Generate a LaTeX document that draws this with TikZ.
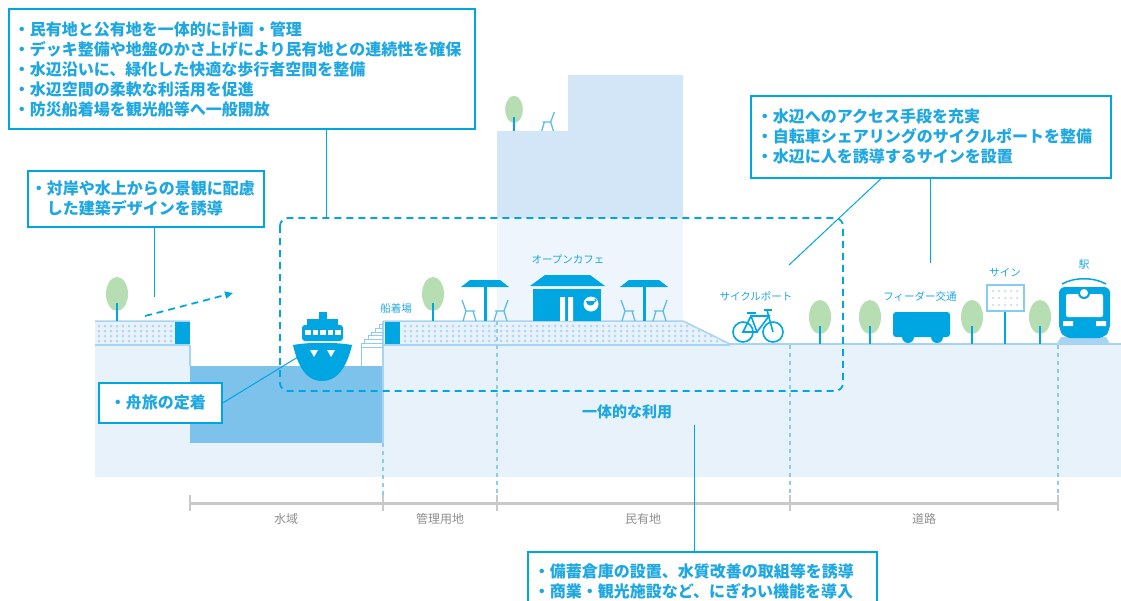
\documentclass[tikz,border=0pt]{standalone}
\usepackage{fontspec}
\setmainfont{Noto Sans CJK JP}
\usetikzlibrary{arrows.meta}
\definecolor{cyanmain}{HTML}{00A6E2}
\definecolor{cyantext}{HTML}{1EA7E1}
\definecolor{cyanlight}{HTML}{5CBDE8}
\definecolor{groundfill}{HTML}{E8F2FB}
\definecolor{waterfill}{HTML}{7DC2EB}
\definecolor{buildfill}{HTML}{D2E6F8}
\definecolor{buildlow}{HTML}{EFF5FC}
\definecolor{edgeblue}{HTML}{A8D4F3}
\definecolor{dotblue}{HTML}{B3D6F2}
\definecolor{divblue}{HTML}{8DCBF0}
\definecolor{treegreen}{HTML}{B7DDB2}
\definecolor{scalegray}{HTML}{C9C9C9}
\definecolor{labelgray}{HTML}{8E8E8E}

\begin{document}
\begin{tikzpicture}[
        x=1pt, y=-1pt, % ось y вниз
        note/.style={draw=cyanmain, line width=1.8pt, fill=white, anchor=north west,
            align=left, text=cyantext, inner ysep=0pt,
            font=\fontsize{16}{20}\selectfont\bfseries}, % рамки с пояснениями
        tag/.style={text=cyantext, font=\fontsize{10.5}{12}\selectfont}, % подписи объектов
        zone/.style={text=labelgray, font=\fontsize{12}{14}\selectfont}, % подписи участков
        link/.style={draw=cyanmain, line width=1pt},
        divider/.style={draw=divblue, line width=1.2pt, dash pattern=on 4pt off 4pt},
        tree/.pic={
            \fill[treegreen] (0,-27) ellipse (11 and 17);
            \draw[cyanmain, line width=2.2pt] (0,-18) -- (0,0);
        },
        chairL/.pic={
            \draw[cyanlight, line width=1.3pt] (-7,-21) -- (-3,-10) -- (6,-10)
                (-3,-10) -- (-6,0) (4,-10) -- (7,0);
        },
        chairR/.pic={
            \draw[cyanlight, line width=1.3pt] (7,-21) -- (3,-10) -- (-6,-10)
                (3,-10) -- (6,0) (-4,-10) -- (-7,0);
        },
        parasol/.pic={
            \fill[cyanmain] (-24,-34) -- (24,-34) -- (15,-41) -- (-15,-41) -- cycle;
            \draw[cyanmain, line width=3pt] (0,-34) -- (0,0);
        },
    ]

    \useasboundingbox (0,0) rectangle (1121,600);

    % здание
    \fill[buildfill] (497,218) -- (497,131) -- (568,131) -- (568,75) -- (683,75) -- (683,218) -- cycle;
    \fill[buildlow] (497,218) rectangle (683,321);
    \pic[scale=0.8] at (514,131) {tree};
    \pic[scale=0.9] at (548,131) {chairR};

    % грунт и вода
    \fill[groundfill] (95,321) rectangle (1121,477);
    \fill[white] (190,321) rectangle (383,366);
    \fill[waterfill] (190,366) rectangle (383,443);
    \fill[white] (683,320) -- (730,344) -- (1121,344) -- (1121,320) -- cycle;

    % набережные с точками
    \fill[cyanmain] (175,321) rectangle (190,345);
    \fill[cyanmain] (385,321) rectangle (400,345);
    \foreach \y in {326,331,336,341}
        \foreach \x in {99,105,...,171}
            \fill[dotblue] (\x,\y) circle (1.5);
    \begin{scope}
        \clip (400,321) -- (683,321) -- (730,344) -- (400,344) -- cycle;
        \foreach \y in {326,331,336,341}
            \foreach \x in {405,411,...,730}
                \fill[dotblue] (\x,\y) circle (1.5);
    \end{scope}
    \draw[edgeblue, line width=1.5pt] (95,321) -- (190,321) (383,321) -- (683,321) -- (730,344);
    \draw[edgeblue, line width=2pt] (95,345) -- (190,345) (383,345) -- (730,345) (730,344) -- (1121,344);
    \draw[edgeblue, line width=1.2pt] (190,345) -- (190,366) (383,321) -- (383,443);

    % лестница
    \draw[divblue, line width=0.9pt] (361,366) -- (361,347) -- (383,347);
    \foreach \i in {1,...,6}
        \draw[divblue, line width=0.9pt] (361+3.6*\i-3.6,347-3.7*\i+3.7) -- (361+3.6*\i-3.6,347-3.7*\i) -- (383,347-3.7*\i);

    % разделители участков
    \draw[divider] (383,443) -- (383,500);
    \draw[divider] (497,321) -- (497,500);
    \draw[divider] (790,345) -- (790,500);
    \draw[divider] (1058,345) -- (1058,500);

    % деревья
    \foreach \x in {117,433} \pic at (\x,321) {tree};
    \foreach \x in {820,870,972,1040} \pic at (\x,344) {tree};

    % кафе и зонтики
    \foreach \x in {485,644} {
        \pic at (\x,321) {parasol};
        \pic at (\x-16,321) {chairL};
        \pic at (\x+16,321) {chairR};
    }
    \fill[cyanmain] (530,286) -- (605,286) -- (590,275) -- (545,275) -- cycle;
    \fill[cyanmain] (533,289) rectangle (601,321);
    \fill[white] (560,297) rectangle (565,321) (568,297) rectangle (573,321);
    \fill[white] (591,304) circle (7.5);
    \fill[cyanmain] (586,301) -- (595,301) .. controls (595,307) and (586,307) .. (586,301);
    \draw[cyanmain, line width=0.8pt] (594.5,302) arc (90:-90:1.6);
    \node[tag] (cafe) at (568,259) {オープンカフェ};

    % катер
    \fill[cyanmain] (293,345) .. controls (310,342) and (335,342) .. (352,345)
        .. controls (348,362) and (340,381) .. (322,381)
        .. controls (304,381) and (297,362) .. (293,345);
    \fill[white] (310,350) -- (318,350) -- (314,357) -- cycle (327,350) -- (335,350) -- (331,357) -- cycle;
    \fill[cyanmain, rounded corners=3pt] (302,341) -- (302,325) -- (343,325) -- (343,341) -- cycle;
    \fill[cyanmain] (307,319) rectangle (338,325);
    \fill[cyanmain] (319,312) rectangle (327,319);
    \foreach \x in {305,312.5,320,327.5,335}
        \fill[white] (\x,330) rectangle (\x+5.5,335);
    \coordinate (boatbow) at (298,357);
    \node[tag] (pier) at (396,309) {船着場};

    % велосипед
    \begin{scope}[cyanmain, line width=1.6pt]
        \draw (743,332) circle (10) (773,332) circle (10);
        \draw (743,332) -- (757,332) -- (751,316) -- cycle;
        \draw (751,316) -- (769,316) -- (757,332);
        \draw (773,332) -- (767,310);
        \draw (747,313) -- (756,313) (764,310) -- (772,310);
    \end{scope}
    \node[tag] (bikeport) at (756,296) {サイクルポート};

    % автобус
    \fill[cyanmain, rounded corners=3pt] (893,312) rectangle (950,337);
    \fill[cyanmain] (908,337) circle (6) (937,337) circle (6);
    \node[tag] (feeder) at (920,296) {フィーダー交通};

    % указатель
    \draw[cyanmain, line width=2.5pt] (1005,311) -- (1005,344);
    \draw[edgeblue!80!cyanmain, line width=2pt, fill=white] (987,285) rectangle (1024,311);
    \foreach \y in {291,298,305}
        \foreach \x in {993,999,...,1019}
            \fill[treegreen!50!dotblue] (\x,\y) circle (1);
    \node[tag] (signtag) at (1005,273) {サイン};

    % поезд
    \fill[edgeblue] (1057,344) -- (1110,344) -- (1106,337) -- (1061,337) -- cycle;
    \draw[cyanmain, line width=1.5pt] (1062,284) .. controls (1074,277) and (1094,277) .. (1106,284);
    \fill[cyanmain, rounded corners=6pt] (1059,287) -- (1110,287) -- (1110,330) -- (1104,338) -- (1065,338) -- (1059,330) -- cycle;
    \fill[white, rounded corners=2pt] (1066,294) rectangle (1103,317);
    \fill[cyanmain] (1084,293) circle (6);
    \fill[white] (1084,293) circle (4);
    \fill[white] (1063,321) rectangle (1073,326) (1096,321) rectangle (1106,326);
    \node[tag] (station) at (1084,265) {駅};

    % зона совместного использования
    \draw[cyanmain, line width=1.8pt, dash pattern=on 7pt off 5pt, rounded corners=8pt] (280,218) rectangle (843,391);
    \draw[cyanmain, line width=1.8pt, dash pattern=on 7pt off 5pt, -{Triangle[length=8pt, width=7pt]}] (145,316) -- (233,293);
    \node[text=cyantext, font=\fontsize{15}{18}\selectfont\bfseries] (jointuse) at (627,412) {一体的な利用};

    % шкала участков
    \draw[scalegray, line width=3pt] (190,503) -- (1058,503);
    \foreach \x in {190,383,497,790,1058}
        \draw[scalegray, line width=1.2pt] (\x,495) -- (\x,511);
    \node[zone] (water) at (286,519) {水域};
    \node[zone] (mgmt) at (440,519) {管理用地};
    \node[zone] (private) at (643,519) {民有地};
    \node[zone] (road) at (924,519) {道路};

    % рамки с пояснениями
    \node[note, text width=456pt, minimum height=120pt, inner xsep=5pt] (planbox) at (8,8)
        {・民有地と公有地を一体的に計画・管理\\
         ・デッキ整備や地盤のかさ上げにより民有地との連続性を確保\\
         ・水辺沿いに、緑化した快適な歩行者空間を整備\\
         ・水辺空間の柔軟な利活用を促進\\
         ・防災船着場を観光船等へ一般開放};
    \node[note, text width=230pt, minimum height=56pt, inner xsep=3pt] (viewbox) at (27,170)
        {・対岸や水上からの景観に配慮\\
         \hspace*{1em}した建築デザインを誘導};
    \node[note, text width=348pt, minimum height=82pt, inner xsep=6pt] (accessbox) at (750,95)
        {・水辺へのアクセス手段を充実\\
         ・自転車シェアリングのサイクルポートを整備\\
         ・水辺に人を誘導するサインを設置};
    \node[note, text width=101pt, minimum height=40pt, inner xsep=11pt] (boatbox) at (98,382)
        {・舟旅の定着};
    \node[note, text width=337pt, minimum height=58pt, inner xsep=6pt] (privatebox) at (527,551)
        {・備蓄倉庫の設置、水質改善の取組等を誘導\\
         ・商業・観光施設など、にぎわい機能を導入};

    % выноски
    \coordinate (plantop) at (326,218);
    \coordinate (viewend) at (154,297);
    \coordinate (signline) at (930,263);
    \coordinate (bikeline) at (789,265);
    \coordinate (useend) at (694,425);
    \draw[link] (planbox.south -| plantop) -- (plantop);
    \draw[link] (viewbox.south -| viewend) -- (viewend);
    \draw[link] (accessbox.south -| signline) -- (signline);
    \draw[link] ([xshift=-50pt]accessbox.south) -- (bikeline);
    \draw[link] (boatbox.east) -- (boatbow);
    \draw[link] (privatebox.north -| useend) -- (useend);

\end{tikzpicture}
\end{document}
